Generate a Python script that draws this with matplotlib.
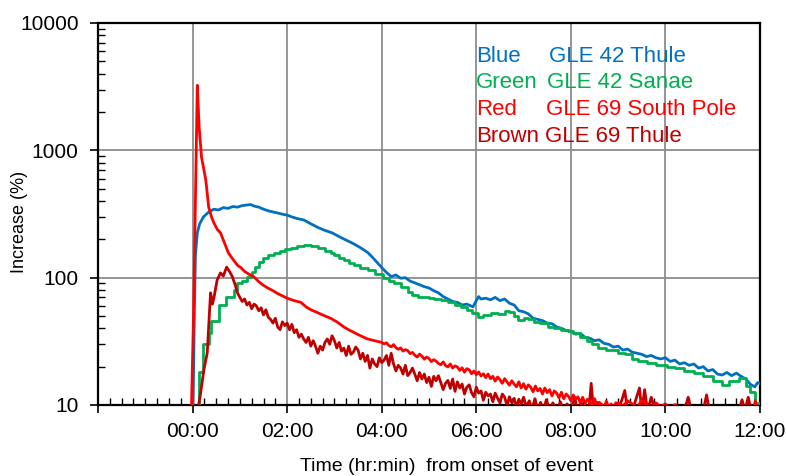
# GLE increase curves, Thule / Sanae / South Pole
import numpy as np
import matplotlib
matplotlib.use('Agg')
import matplotlib.pyplot as plt
from matplotlib.ticker import FixedLocator, MultipleLocator, LogLocator, NullFormatter

plt.rcParams['font.family'] = ['Liberation Sans', 'DejaVu Sans']

# hours from onset, increase (%)
blue_t = [0.00, 0.04, 0.06, 0.10, 0.15, 0.23, 0.33, 0.45, 0.55, 0.65, 0.75, 0.85, 0.95,
          1.05, 1.15, 1.23, 1.30, 1.40, 1.50, 1.60, 1.70, 1.80, 1.90, 2.00, 2.10, 2.20,
          2.35, 2.50, 2.65, 2.80, 2.95, 3.10, 3.25, 3.40, 3.55, 3.70, 3.80, 3.90,
          4.00, 4.10, 4.20, 4.30, 4.40, 4.50, 4.60, 4.70, 4.80, 4.90, 5.00, 5.10, 5.20,
          5.30, 5.40, 5.50, 5.60, 5.70, 5.80, 5.93, 6.00, 6.05, 6.10, 6.20, 6.30, 6.40,
          6.50, 6.60, 6.70, 6.80, 6.90, 7.00, 7.10, 7.20, 7.30, 7.40, 7.50, 7.60, 7.70,
          7.80, 7.90, 8.00, 8.10, 8.20, 8.30, 8.40, 8.50, 8.60, 8.70, 8.80, 8.90, 9.00,
          9.10, 9.20, 9.30, 9.40, 9.50, 9.60, 9.70, 9.80, 9.90, 10.00, 10.10, 10.20,
          10.30, 10.40, 10.50, 10.60, 10.70, 10.80, 10.90, 11.00, 11.10, 11.20, 11.30,
          11.40, 11.50, 11.60, 11.70, 11.80, 11.89, 11.95, 12.00]
blue_v = [5, 60, 150, 225, 265, 300, 325, 345, 340, 355, 350, 362, 358,
          368, 372, 375, 365, 358, 345, 335, 328, 322, 315, 310, 300, 292,
          284, 265, 248, 235, 225, 210, 197, 185, 172, 158, 145, 132,
          120, 110, 102, 105, 99, 100, 94, 91, 88, 85, 83, 79, 76,
          71, 68, 65, 64, 61, 62, 59, 66, 71, 68, 69, 67, 70,
          66, 68, 63, 61, 55, 54, 52, 48, 47, 46, 44, 43.5, 41,
          40, 38.5, 38, 36, 36.5, 34, 33.5, 32, 32.5, 30.5, 30, 28.5, 29,
          27, 27.5, 26, 25.5, 25, 24, 24.5, 23.5, 23, 23.5, 22, 22.5,
          21, 21.5, 20.5, 21, 19.5, 20, 18.5, 19, 17.5, 17.2, 18,
          17, 17.8, 16.8, 16, 14.5, 13.9, 15, 14.7]

green_t = [0.08, 0.13, 0.21, 0.30, 0.34, 0.38, 0.46, 0.55, 0.63, 0.70, 0.80, 0.88, 0.95,
           1.05, 1.16, 1.25, 1.33, 1.40, 1.48, 1.60, 1.72, 1.85, 1.95, 2.08, 2.20, 2.35,
           2.50, 2.65, 2.80, 2.92, 3.00, 3.10, 3.20, 3.30, 3.42, 3.55, 3.70, 3.85, 4.02,
           4.15, 4.26, 4.40, 4.55, 4.65, 4.76, 4.90, 5.00, 5.10, 5.25, 5.40, 5.55, 5.68,
           5.80, 5.90, 6.03, 6.15, 6.31, 6.45, 6.60, 6.70, 6.80, 6.89, 7.00, 7.10, 7.22,
           7.35, 7.52, 7.65, 7.80, 7.95, 8.05, 8.20, 8.35, 8.45, 8.58, 8.75, 9.00, 9.15,
           9.30, 9.43, 9.60, 9.80, 10.04, 10.20, 10.40, 10.61, 10.80, 11.00, 11.19, 11.35,
           11.55, 11.70, 11.78, 11.89, 12.00]
green_v = [5, 18, 30, 30, 37, 46, 46, 61, 61, 70, 70, 80, 91,
           95, 102, 110, 121, 132, 143, 150, 156, 162, 167, 171, 176, 180,
           176, 171, 163, 156, 150, 143, 137, 130, 125, 120, 115, 107, 100,
           95, 91, 84, 77, 73, 70, 70, 69, 68, 67, 64, 61, 59,
           56, 53, 49, 51, 53, 52, 55, 54, 50, 46.5, 48, 47, 45,
           44, 41, 40, 39, 38, 37, 34, 32, 30, 28, 27, 25.6, 25,
           23, 22, 21.5, 20.5, 19.8, 19.5, 18.5, 17.8, 17, 15.5, 14.3, 15.5,
           16.3, 14, 12.6, 10.4, 10]

# red: spike and decay, then 3-min readings 04:00-09:00, then tail
red_t_head = [-0.04, 0.02, 0.10, 0.14, 0.19, 0.24, 0.28, 0.34, 0.40, 0.45, 0.52, 0.59,
              0.68, 0.76, 0.85, 0.95, 1.02, 1.10, 1.20, 1.29, 1.40, 1.50, 1.59, 1.70,
              1.80, 1.90, 2.00, 2.15, 2.29, 2.40, 2.50, 2.65, 2.80, 2.92, 3.05, 3.20,
              3.30, 3.42, 3.55, 3.70, 3.85]
red_v_head = [5, 50, 3240, 1500, 880, 700, 585, 360, 300, 270, 240, 225,
              185, 156, 140, 125, 120, 112, 106, 102, 93, 87, 83, 79,
              75, 72, 69, 66, 64, 59, 56, 53, 50, 48, 45, 41,
              39, 37, 35, 33, 32]
red_v_mid = [31, 30.2, 30.8, 29.4, 28.6, 29.8, 28.2, 27.4, 28.1, 26.5, 27.2, 26.8, 25.3,
             25.9, 24.6, 23.8, 25.1, 24.2, 22.9, 23.8, 23.2, 21.9, 22.7, 22.1, 21.2, 20.7,
             21.8, 20.4, 19.9, 21, 19.5, 20.3, 19.9, 18.7, 19.6, 18.1, 19.3, 18.9, 17.6,
             18.5, 17.3, 18.2, 16.9, 17.6, 16.4, 17.5, 16.1, 16.8, 15.4, 16.6, 15.8, 14.8,
             16.1, 15.2, 14.3, 15.5, 14.6, 13.9, 15.2, 13.6, 14.7, 13.3, 14.4, 13.8, 12.7,
             14.1, 12.9, 13.5, 12.2, 13.6, 12.5, 13.2, 11.8, 12.9, 12.4, 11.4, 12.6, 11.2,
             12.2, 11.7, 10.8, 12, 11.1, 11.6, 10.4, 11.5, 10.2, 11.1, 10.6, 9.8, 11.2,
             9.7, 10.5, 10.1, 9.4, 10.7, 9.6, 10.2, 9.3, 10.4, 10.3]
red_t_tail = [9.10, 9.20, 9.30, 9.40, 9.50, 9.60, 9.70, 9.80, 9.90, 10.00, 10.10, 10.20,
              10.30, 10.40, 10.60, 11.00, 11.50, 11.85, 11.90, 11.95, 12.00]
red_v_tail = [9.8, 10.8, 10.2, 9.6, 10.9, 10.0, 9.5, 10.4, 9.7, 10.2, 9.4, 10.1,
              9.2, 9.0, 8.5, 8.5, 8.5, 8.5, 10.8, 8.5, 8.5]

# brown: onset, 3-min readings 01:00-07:00, then spikes off the axis
brown_t_head = [0.00, 0.17, 0.24, 0.31, 0.38, 0.42, 0.45, 0.52, 0.59, 0.65, 0.72, 0.78,
                0.84, 0.90, 0.95]
brown_v_head = [5, 12.4, 19, 25.6, 76, 62, 69, 96, 109, 103, 121, 112,
                102, 88, 76]
brown_v_mid = [70, 65, 68, 61, 64, 57, 62, 60, 55, 58, 51, 56, 49,
               47, 44, 48, 41, 39, 45, 42, 44, 39, 43, 37, 39, 34,
               36, 33, 31, 34, 29, 32, 29, 25.5, 29, 27, 31, 33, 30,
               35, 32, 28, 31, 26.5, 28, 24.5, 29, 25, 26, 28.5, 27, 23,
               25.5, 22, 24.5, 19.5, 23, 21, 20, 23.5, 21.5, 22.5, 24.5, 20.5, 25.5,
               21, 18.5, 20.5, 19.5, 17.5, 20.5, 17, 18, 19.5, 17.5, 15.5, 18, 16,
               17.5, 15, 16.5, 14, 16.8, 15.5, 17, 15, 13.2, 14.8, 15.6, 13.5, 16,
               12.8, 15.2, 13.6, 14.6, 12.2, 13.8, 14.4, 12.5, 11.6, 13.8, 12.4, 12.9, 10.9,
               12.6, 11.8, 12.2, 10.6, 12.4, 11.3, 10.4, 12.2, 11.5, 9.9, 11.6, 10.4, 11.3,
               9.6, 11.1, 10.2, 11.5]
brown_t_tail = [7.06, 7.12, 7.18, 7.24, 7.30, 7.36, 7.42, 7.48, 7.55, 7.62, 7.70, 7.78,
                7.85, 7.92, 8.00, 8.08, 8.14, 8.22, 8.30, 8.38, 8.43, 8.48, 8.55, 8.70,
                8.85, 9.00, 9.08, 9.14, 9.20, 9.30, 9.45, 9.50, 9.56, 9.62, 9.70, 9.78,
                10.00, 10.40, 10.48, 10.55, 10.80, 10.87, 10.93, 11.20, 11.55, 11.62,
                11.68, 11.75, 11.82]
brown_v_tail = [9.6, 10.8, 9.3, 11.2, 9.2, 10.5, 9, 11, 9.2, 10.4, 9, 10.6,
                9, 10.2, 9, 11.5, 9, 10.5, 9, 9, 14.8, 9, 10.5, 9,
                9, 9, 11, 13, 9, 9, 13.6, 9, 13.2, 9, 11.5, 9,
                9, 9, 11.5, 9, 9, 12, 9, 9, 9, 11,
                9, 11.5, 9]

red_t = red_t_head + list(np.round(np.linspace(4.0, 9.0, len(red_v_mid)), 3)) + red_t_tail
red_v = red_v_head + red_v_mid + red_v_tail
brown_t = brown_t_head + list(np.round(np.linspace(1.0, 7.0, len(brown_v_mid)), 3)) + brown_t_tail
brown_v = brown_v_head + brown_v_mid + brown_v_tail

x_major = [-2, 0, 2, 4, 6, 8, 10, 12]
x_labels = ['', '00:00', '02:00', '04:00', '06:00', '08:00', '10:00', '12:00']
y_major = [10, 100, 1000, 10000]

legend_rows = [('Blue', 'GLE 42 Thule', '#0070C0'),
               ('Green', 'GLE 42 Sanae', '#00B050'),
               ('Red', 'GLE 69 South Pole', '#FF0000'),
               ('Brown', 'GLE 69 Thule', '#C00000')]
legend_x2 = [549, 547, 546, 545]

fig = plt.figure(figsize=(7.86, 4.76), dpi=100)
ax = fig.add_axes([98/786, 1 - 405/476, 662/786, 382/476])

lw = 2.0
ax.plot(blue_t, blue_v, color='#0070C0', lw=lw, zorder=3)
ax.plot(green_t, green_v, color='#00B050', lw=lw, drawstyle='steps-post', zorder=3)
ax.plot(brown_t, brown_v, color='#C00000', lw=lw, zorder=3)
ax.plot(red_t, red_v, color='#FF0000', lw=lw, zorder=3)

ax.set_yscale('log')
ax.set_ylim(10, 10000)
ax.set_xlim(-2, 12)

ax.xaxis.set_major_locator(FixedLocator(x_major))
ax.set_xticklabels(x_labels)
ax.xaxis.set_minor_locator(MultipleLocator(0.25))
ax.set_yticks(y_major)
ax.set_yticklabels([str(v) for v in y_major])
ax.yaxis.set_minor_locator(LogLocator(base=10, subs=range(2, 10)))
ax.yaxis.set_minor_formatter(NullFormatter())

ax.tick_params(axis='both', which='major', direction='out', length=6, width=1.2,
               labelsize=15, color='black')
ax.tick_params(axis='x', which='major', pad=6)
ax.tick_params(axis='y', which='major', pad=8)
ax.tick_params(axis='both', which='minor', direction='in', length=5, width=1.0)

ax.grid(True, which='major', color='#8c8c8c', lw=1.3, zorder=1)
for s in ax.spines.values():
    s.set_color('black')
    s.set_linewidth(1.6)

ax.set_xlabel('Time (hr:min)  from onset of event', fontsize=14)
ax.xaxis.set_label_coords((447 - 98) / 662, -0.14)
ax.set_ylabel('Increase (%)', fontsize=13)
ax.yaxis.set_label_coords(-0.105, 0.48)

for i, (name, desc, col) in enumerate(legend_rows):
    yb = 1 - (61.7 + i * 26.7) / 476
    fig.text(476 / 786, yb, name, color=col, fontsize=16, va='baseline')
    fig.text(legend_x2[i] / 786, yb, desc, color=col, fontsize=16, va='baseline')

fig.savefig('out.png', dpi=100)
